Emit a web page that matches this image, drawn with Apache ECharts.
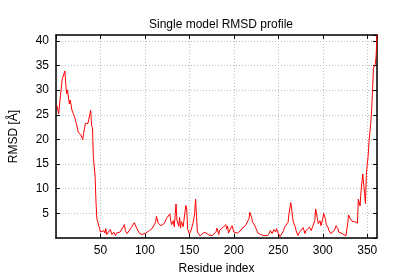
<!DOCTYPE html>
<html><head><meta charset="utf-8">
<script src="https://cdn.jsdelivr.net/npm/echarts@6/dist/echarts.min.js"></script>
<style>html,body{margin:0;padding:0;background:#fff}#c{width:400px;height:280px}</style>
</head><body><div id="c"></div>
<script>
const titleText = "Single model RMSD profile";
const xName = "Residue index";
const yName = "RMSD [Å]";
const residues = [1,3,5,7,8,10,11,12,13,15,16,18,19,21,23,25,28,30,31,33,35,36,38,39,40,41,42,44,45,46,47,48,49,50,52,54,55,56,57,59,61,63,65,67,68,70,72,74,77,78,80,82,85,88,90,91,94,95,97,99,101,103,105,107,108,110,112,113,115,117,118,120,122,124,126,128,129,130,132,133,135,136,138,139,140,141,143,145,146,147,148,150,152,154,155,156,157,158,159,160,162,164,166,167,169,170,172,174,176,178,180,181,183,184,186,188,190,191,192,193,194,196,198,200,202,204,205,207,209,211,213,215,217,218,220,221,223,225,227,228,230,232,234,236,238,240,241,243,245,247,248,250,252,254,256,257,259,261,262,264,265,266,267,269,270,272,274,276,278,280,281,283,285,287,289,291,292,294,295,297,298,300,301,303,304,306,307,309,311,313,315,317,318,320,322,324,326,328,329,331,333,334,336,338,339,340,342,343,345,347,348,349,350,351,352,353,354,355,356,357,359,360,361];
const rmsd = [26.9,25.2,28.9,32.2,31.9,33.9,31.2,29.3,30,27.2,28,25.9,25.5,24.5,23.2,21.5,20.9,20,21.2,23.2,23.5,23.3,25.1,25.9,22.9,22.4,16.5,12.5,7.2,3.9,3.6,3.5,1.9,1.2,0.9,1.5,1,1.9,0.7,1.2,1.7,0.7,1.2,0.5,1,0.9,1.2,1.5,2.7,1.5,0.9,1.2,2.2,3.1,3.3,1.9,0.9,0.5,0.7,0.3,1,1.2,1.5,1.4,1.9,2.3,3.2,4.4,3,2.7,2.5,2.2,3,3.9,4.2,4.9,3.5,2.7,3.5,2.3,6.9,3.6,2.4,4.2,2.0,3.3,2.3,5.2,6.6,5.9,1.9,0.8,1.6,3.0,3.9,5.2,7.9,4.4,1.2,0.9,0.4,0.7,1.1,0.7,1.0,0.7,0.6,0.9,0.5,0.8,1.3,2.0,0.7,1.6,1.2,2.2,2.6,2.7,1.8,2.4,1.0,1.8,2.5,1.2,0.9,1.0,0.9,1.4,1.9,2.2,2.5,3.2,3.9,5.2,4.2,3.2,2.7,1.9,1.0,1.2,0.7,1.0,0.5,0.9,0.5,1.0,1.5,0.9,1.7,1.2,1.9,0.9,0.3,0.5,1.5,2.2,2.5,3.2,4.9,7.2,5.9,4.2,3.2,2.3,1.5,0.5,1.2,1.5,2.1,0.9,1.5,1.2,2.2,1.5,2.5,3.5,5.9,3.9,2.9,3.5,2.5,3.9,5.0,3.9,2.7,2.1,1.5,0.9,1.2,1.5,2.5,1.9,1.2,1.5,0.9,0.5,0.4,2.9,4.7,3.9,3.4,3.2,3.3,3.2,3.0,7.9,6.5,9.5,13.0,9.0,7.0,12.7,15.0,16.5,19.5,21.5,23.4,26,30,34.5,35.2,37,41.2];
const xTicks = {min: 0, max: 361, interval: 50};
const yTicks = {min: 0, interval: 5};

const font = "Liberation Sans, Arial, sans-serif";
const gridLine = {show: true, lineStyle: {color: '#bdbdbd', type: [1, 2], width: 1}};
const axisLine = {show: true, onZero: false, lineStyle: {color: '#000', width: 1.5}};
const tick = {show: true, inside: true, length: 4, lineStyle: {color: '#000', width: 1}};

const chart = echarts.init(document.getElementById('c'), null, {renderer: 'canvas'});
chart.setOption({
  animation: false,
  backgroundColor: '#fff',
  title: {text: titleText, left: 216, top: 14, textAlign: 'center',
    textStyle: {fontFamily: font, fontSize: 12, fontWeight: 'normal', color: '#000'}},
  grid: {left: 52, right: 23, top: 35, bottom: 40, containLabel: false},
  xAxis: [{
    type: 'value', position: 'bottom', min: xTicks.min, max: xTicks.max, interval: xTicks.interval,
    name: xName, nameLocation: 'middle', nameGap: 25,
    nameTextStyle: {fontFamily: font, fontSize: 12, color: '#000'},
    axisLine, axisTick: tick, splitLine: gridLine,
    axisLabel: {fontFamily: font, fontSize: 12, color: '#000', margin: 7, showMinLabel: false, showMaxLabel: false}
  }, {
    type: 'value', position: 'top', min: xTicks.min, max: xTicks.max, interval: xTicks.interval,
    axisLine, axisTick: tick, splitLine: {show: false}, axisLabel: {show: false}
  }],
  yAxis: [{
    type: 'value', position: 'left', min: yTicks.min, max: 'dataMax', interval: yTicks.interval,
    name: yName, nameLocation: 'middle', nameGap: 36, nameRotate: 90,
    nameTextStyle: {fontFamily: font, fontSize: 12, color: '#000'},
    axisLine, axisTick: tick, splitLine: gridLine,
    axisLabel: {fontFamily: font, fontSize: 12, color: '#000', margin: 7, showMinLabel: false, showMaxLabel: false}
  }, {
    type: 'value', position: 'right', min: yTicks.min, max: 41.2, interval: yTicks.interval,
    axisLine, axisTick: tick, splitLine: {show: false}, axisLabel: {show: false}
  }],
  series: [{
    type: 'line', xAxisIndex: 0, yAxisIndex: 0,
    data: residues.map((r, i) => [r, rmsd[i]]),
    showSymbol: false, symbol: 'none',
    lineStyle: {color: '#ff0000', width: 1}
  }]
});
</script></body></html>
